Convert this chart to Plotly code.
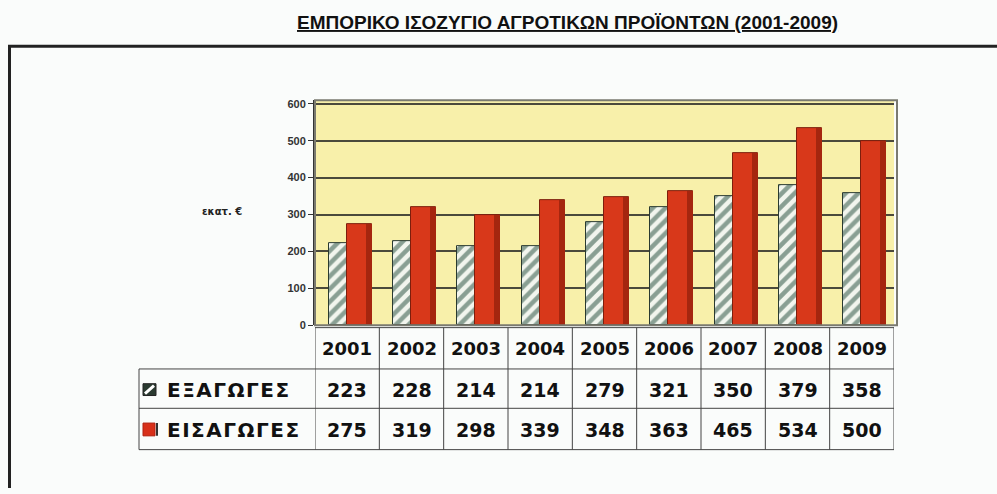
import plotly.graph_objects as go

# ---- data ----
years = ["2001", "2002", "2003", "2004", "2005", "2006", "2007", "2008", "2009"]
exports = [223, 228, 214, 214, 279, 321, 350, 379, 358]
imports = [275, 319, 298, 339, 348, 363, 465, 534, 500]
y_ticks = [0, 100, 200, 300, 400, 500, 600]
title_text = "ΕΜΠΟΡΙΚΟ ΙΣΟΖΥΓΙΟ ΑΓΡΟΤΙΚΩΝ ΠΡΟΪΟΝΤΩΝ (2001-2009)"
row_labels = ["ΕΞΑΓΩΓΕΣ", "ΕΙΣΑΓΩΓΕΣ"]
unit_label = "εκατ. €"

W, H = 997, 494


def px(x):
    return x / W


def py(y):
    return 1 - y / H


X0, X1 = 315, 894          # plot / table column extent (pixels)
Y_TOP, Y_BOT = 99.75, 328.5
LABEL_LEFT = 139
ROW_LINES = [331, 373, 413, 455]

fig = go.Figure()
fig.add_bar(
    x=years, y=exports, offset=-0.29, width=0.28, name=row_labels[0],
    marker=dict(color="#f2f5ee",
                pattern=dict(shape="/", fgcolor="#1f4a38", bgcolor="#f2f5ee", size=9, solidity=0.5),
                line=dict(color="#2a3a30", width=1)),
)
fig.add_bar(
    x=years, y=imports, offset=-0.01, width=0.39, name=row_labels[1],
    marker=dict(color="#d8381a", line=dict(color="#7d1e0c", width=1)),
)
fig.add_bar(
    x=years, y=imports, offset=0.29, width=0.09, showlegend=False,
    marker=dict(color="#a5260f", line=dict(width=0)),
)

shapes = []
# plot area border
shapes.append(dict(type="rect", xref="paper", yref="paper",
                   x0=px(X0), x1=px(X1 + 3), y0=py(Y_BOT), y1=py(Y_TOP),
                   line=dict(color="#7a7a70", width=2), layer="above"))
# outer frame
shapes.append(dict(type="line", xref="paper", yref="paper", x0=px(8), x1=1.0,
                   y0=py(45), y1=py(45), line=dict(color="#222", width=3)))
shapes.append(dict(type="line", xref="paper", yref="paper", x0=px(9.5), x1=px(9.5),
                   y0=py(44), y1=0, line=dict(color="#222", width=3)))
# table vertical lines at category boundaries
for i in range(len(years) + 1):
    shapes.append(dict(type="line", xref="x", yref="paper", x0=i - 0.5, x1=i - 0.5,
                       y0=py(ROW_LINES[0]), y1=py(ROW_LINES[-1]),
                       line=dict(color="#444", width=1)))
# label column left line
shapes.append(dict(type="line", xref="paper", yref="paper", x0=px(LABEL_LEFT), x1=px(LABEL_LEFT),
                   y0=py(ROW_LINES[1]), y1=py(ROW_LINES[-1]), line=dict(color="#444", width=1)))
# horizontal lines
shapes.append(dict(type="line", xref="x", yref="paper", x0=-0.5, x1=len(years) - 0.5,
                   y0=py(ROW_LINES[0]), y1=py(ROW_LINES[0]), line=dict(color="#444", width=1)))
for yl in ROW_LINES[1:]:
    shapes.append(dict(type="line", xref="paper", yref="paper", x0=px(LABEL_LEFT), x1=px(X1),
                       y0=py(yl), y1=py(yl), line=dict(color="#444", width=1)))
# legend keys
shapes.append(dict(type="rect", xref="paper", yref="paper", x0=px(143), x1=px(156),
                   y0=py(400), y1=py(388), fillcolor="#2a3a30", line=dict(color="#222", width=1)))
shapes.append(dict(type="line", xref="paper", yref="paper", x0=px(145), x1=px(154),
                   y0=py(398), y1=py(390), line=dict(color="#ffffff", width=3)))
shapes.append(dict(type="rect", xref="paper", yref="paper", x0=px(143), x1=px(155),
                   y0=py(441), y1=py(428), fillcolor="#d8301a", line=dict(color="#b02010", width=1)))
shapes.append(dict(type="rect", xref="paper", yref="paper", x0=px(156), x1=px(158),
                   y0=py(441), y1=py(428), fillcolor="#333", line=dict(width=0)))

annotations = []
annotations.append(dict(text=title_text, xref="paper", yref="paper", x=px(567), y=py(21),
                        showarrow=False, xanchor="center", yanchor="middle",
                        font=dict(family="Liberation Sans", size=19,
                                  color="#111", weight="bold", lineposition="under")))
annotations.append(dict(text=unit_label, xref="paper", yref="paper", x=px(222), y=py(213),
                        showarrow=False, xanchor="center", yanchor="middle",
                        font=dict(family="DejaVu Sans", size=10, color="#222", weight="bold")))
for i, yr in enumerate(years):
    annotations.append(dict(text=yr, xref="x", yref="paper", x=i, y=py(352), showarrow=False,
                            xanchor="center", yanchor="middle",
                            font=dict(family="DejaVu Sans", size=18, color="#111", weight="bold")))
for vals, ycen in ((exports, 394), (imports, 435)):
    for i, v in enumerate(vals):
        annotations.append(dict(text=str(v), xref="x", yref="paper", x=i, y=py(ycen), showarrow=False,
                                xanchor="center", yanchor="middle",
                                font=dict(family="DejaVu Sans", size=19, color="#111", weight="bold")))
for lab, ycen in zip(row_labels, (394, 435)):
    annotations.append(dict(text='<span style="letter-spacing:1.5px">' + lab + '</span>',
                            xref="paper", yref="paper", x=px(165), y=py(ycen),
                            xanchor="left", yanchor="middle", showarrow=False,
                            font=dict(family="DejaVu Sans", size=20, color="#111", weight="bold")))

fig.update_layout(
    width=W, height=H, margin=dict(l=0, r=0, t=0, b=0),
    paper_bgcolor="#fafcfb", plot_bgcolor="#f8f0aa",
    barmode="overlay", showlegend=False, bargap=0,
    xaxis=dict(domain=[px(X0), px(X1)], range=[-0.5, len(years) - 0.5], type="category",
               showticklabels=False, showgrid=False, zeroline=False, showline=False, ticks=""),
    yaxis=dict(domain=[py(Y_BOT), py(Y_TOP)], range=[0, 610], tickvals=y_ticks,
               showgrid=True, gridcolor="#4b4a3c", gridwidth=1.5, zeroline=False,
               ticks="outside", ticklen=5, tickcolor="#333", showline=True, linecolor="#333", linewidth=2,
               tickfont=dict(family="Liberation Sans", size=11, color="#333", weight="bold")),
    shapes=shapes, annotations=annotations,
)

fig.write_html("out.html", config={"displayModeBar": False},
               post_script="document.body.style.margin='0';")
